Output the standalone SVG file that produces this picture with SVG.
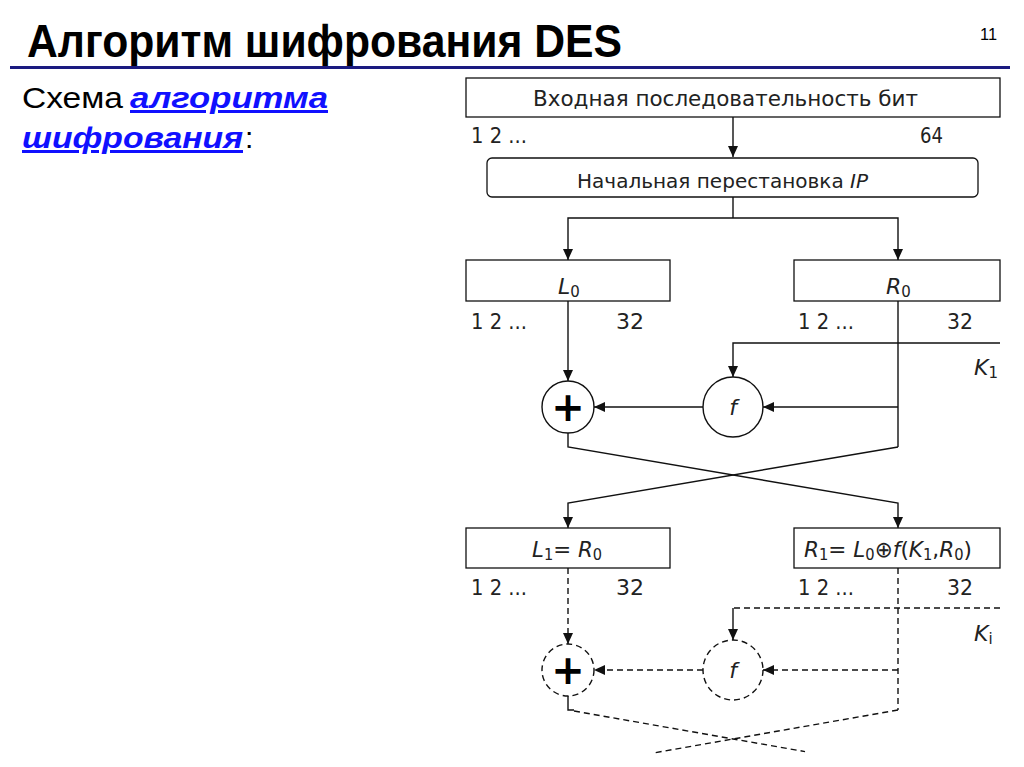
<svg xmlns="http://www.w3.org/2000/svg" width="1024" height="767" viewBox="0 0 1024 767">
<style>
.t{font-family:"DejaVu Sans","Liberation Sans",sans-serif;font-size:22px;fill:#222}
.i{font-style:italic}
.s{font-size:15px;font-style:normal}
.box{fill:#fff;stroke:#111;stroke-width:1.3}
.ln{fill:none;stroke:#111;stroke-width:1.4}
.dash{stroke-dasharray:6 4}
</style>
<defs>
<marker id="ah" markerWidth="12" markerHeight="10" refX="11" refY="5" orient="auto" markerUnits="userSpaceOnUse">
<path d="M0,0 L11,5 L0,10 z" fill="#111"/>
</marker>
</defs>
<rect width="1024" height="767" fill="#fff"/>
<g id="header">
<text x="27" y="57" font-family="Liberation Sans, Arial, sans-serif" font-weight="bold" font-size="47" fill="#000" textLength="595" lengthAdjust="spacingAndGlyphs">Алгоритм шифрования DES</text>
<text x="980" y="40" font-family="Liberation Sans, Arial, sans-serif" font-size="17" fill="#000" textLength="17" lengthAdjust="spacingAndGlyphs">11</text>
<rect x="10" y="66" width="1000" height="3" fill="#1a1a80"/>
<text x="22" y="108" font-family="Liberation Sans, Arial, sans-serif" font-size="30" fill="#000" textLength="101" lengthAdjust="spacingAndGlyphs">Схема</text>
<text x="130" y="108" font-family="Liberation Sans, Arial, sans-serif" font-size="30" font-weight="bold" font-style="italic" fill="#1010ff" text-decoration="underline" textLength="198" lengthAdjust="spacingAndGlyphs">алгоритма</text>
<text x="22" y="148" font-family="Liberation Sans, Arial, sans-serif" font-size="30" font-weight="bold" font-style="italic" fill="#1010ff" text-decoration="underline" textLength="221" lengthAdjust="spacingAndGlyphs">шифрования</text>
<text x="245" y="148" font-family="Liberation Sans, Arial, sans-serif" font-size="30" fill="#000">:</text>
</g>
<g id="input">
<rect class="box" x="466" y="78" width="534" height="39"/>
<text class="t" x="533" y="106" textLength="385" lengthAdjust="spacingAndGlyphs">Входная последовательность бит</text>
<text class="t" x="471" y="143" textLength="56" lengthAdjust="spacingAndGlyphs">1 2 ...</text>
<text class="t" x="920" y="143" textLength="23" lengthAdjust="spacingAndGlyphs">64</text>
</g>
<g id="ip">
<rect class="box" x="487" y="158" width="491" height="39" rx="5"/>
<text class="t" x="577" y="188" style="font-size:20px" textLength="291" lengthAdjust="spacingAndGlyphs">Начальная перестановка <tspan class="i">IP</tspan></text>
</g>
<g id="L0">
<rect class="box" x="466" y="260" width="204" height="41"/>
<text class="t i" x="558" y="294">L<tspan class="s" dy="3">0</tspan></text>
<text class="t" x="471" y="329" textLength="56" lengthAdjust="spacingAndGlyphs">1 2 ...</text>
<text class="t" x="616" y="329" textLength="28" lengthAdjust="spacingAndGlyphs">32</text>
</g>
<g id="R0">
<rect class="box" x="794" y="260" width="206" height="41"/>
<text class="t i" x="886" y="294">R<tspan class="s" dy="3">0</tspan></text>
<text class="t" x="798" y="329" textLength="56" lengthAdjust="spacingAndGlyphs">1 2 ...</text>
<text class="t" x="947" y="329" textLength="26" lengthAdjust="spacingAndGlyphs">32</text>
</g>
<g id="K1">
<text class="t i" x="974" y="375">K<tspan class="s" dy="3">1</tspan></text>
</g>
<g id="xor1">
<circle cx="568" cy="407" r="26" fill="#fff" stroke="#111" stroke-width="1.4"/>
<text x="568" y="421" text-anchor="middle" font-family="DejaVu Sans, sans-serif" font-weight="bold" font-size="40" fill="#000">+</text>
</g>
<g id="f1">
<circle cx="733" cy="407" r="30" fill="#fff" stroke="#111" stroke-width="1.4"/>
<text class="t i" x="733" y="415" text-anchor="middle">f</text>
</g>
<g id="L1">
<rect class="box" x="466" y="528" width="204" height="40"/>
<text class="t i" x="532" y="557" textLength="70" lengthAdjust="spacingAndGlyphs">L<tspan class="s" dy="3">1</tspan><tspan dy="-3" font-style="normal">= </tspan>R<tspan class="s" dy="3">0</tspan></text>
<text class="t" x="471" y="595" textLength="56" lengthAdjust="spacingAndGlyphs">1 2 ...</text>
<text class="t" x="616" y="595" textLength="28" lengthAdjust="spacingAndGlyphs">32</text>
</g>
<g id="R1">
<rect class="box" x="794" y="528" width="206" height="40"/>
<text class="t i" x="804" y="557" textLength="168" lengthAdjust="spacingAndGlyphs">R<tspan class="s" dy="3">1</tspan><tspan dy="-3" font-style="normal">= </tspan>L<tspan class="s" dy="3">0</tspan><tspan dy="-3" font-style="normal">⊕</tspan>f<tspan font-style="normal">(</tspan>K<tspan class="s" dy="3">1</tspan><tspan dy="-3" font-style="normal">,</tspan>R<tspan class="s" dy="3">0</tspan><tspan dy="-3" font-style="normal">)</tspan></text>
<text class="t" x="798" y="595" textLength="56" lengthAdjust="spacingAndGlyphs">1 2 ...</text>
<text class="t" x="947" y="595" textLength="26" lengthAdjust="spacingAndGlyphs">32</text>
</g>
<g id="Ki">
<text class="t i" x="974" y="641">K<tspan class="s" dy="3">i</tspan></text>
</g>
<g id="xor2">
<circle cx="568" cy="670" r="26" fill="#fff" stroke="#111" stroke-width="1.4" stroke-dasharray="6 4"/>
<text x="568" y="684" text-anchor="middle" font-family="DejaVu Sans, sans-serif" font-weight="bold" font-size="40" fill="#000">+</text>
</g>
<g id="f2">
<circle cx="733" cy="670" r="30" fill="#fff" stroke="#111" stroke-width="1.4" stroke-dasharray="6 4"/>
<text class="t i" x="733" y="678" text-anchor="middle">f</text>
</g>
<g id="connectors">
<path class="ln" d="M733,117 V157" marker-end="url(#ah)"/>
<path class="ln" d="M733,197 V218"/>
<path class="ln" d="M733,218 H568 V260" marker-end="url(#ah)"/>
<path class="ln" d="M733,218 H898 V260" marker-end="url(#ah)"/>
<path class="ln" d="M568,301 V381" marker-end="url(#ah)"/>
<path class="ln" d="M1000,343 H733 V377" marker-end="url(#ah)"/>
<path class="ln" d="M898,301 V447"/>
<path class="ln" d="M898,407 H763" marker-end="url(#ah)"/>
<path class="ln" d="M703,407 H594" marker-end="url(#ah)"/>
<path class="ln" d="M568,433 V447 L898,503 V528" marker-end="url(#ah)"/>
<path class="ln" d="M898,447 L568,503 V528" marker-end="url(#ah)"/>
<path class="ln dash" d="M568,568 V644" marker-end="url(#ah)"/>
<path class="ln dash" d="M1000,608 H733"/>
<path class="ln" d="M733,608 V640" marker-end="url(#ah)"/>
<path class="ln dash" d="M898,568 V710"/>
<path class="ln dash" d="M898,670 H763" marker-end="url(#ah)"/>
<path class="ln dash" d="M703,670 H594" marker-end="url(#ah)"/>
<path class="ln" d="M568,696 V710 H574"/>
<path class="ln dash" d="M574,711 L805,751.6"/>
<path class="ln dash" d="M898,710 L655,752.7"/>
</g>
</svg>
